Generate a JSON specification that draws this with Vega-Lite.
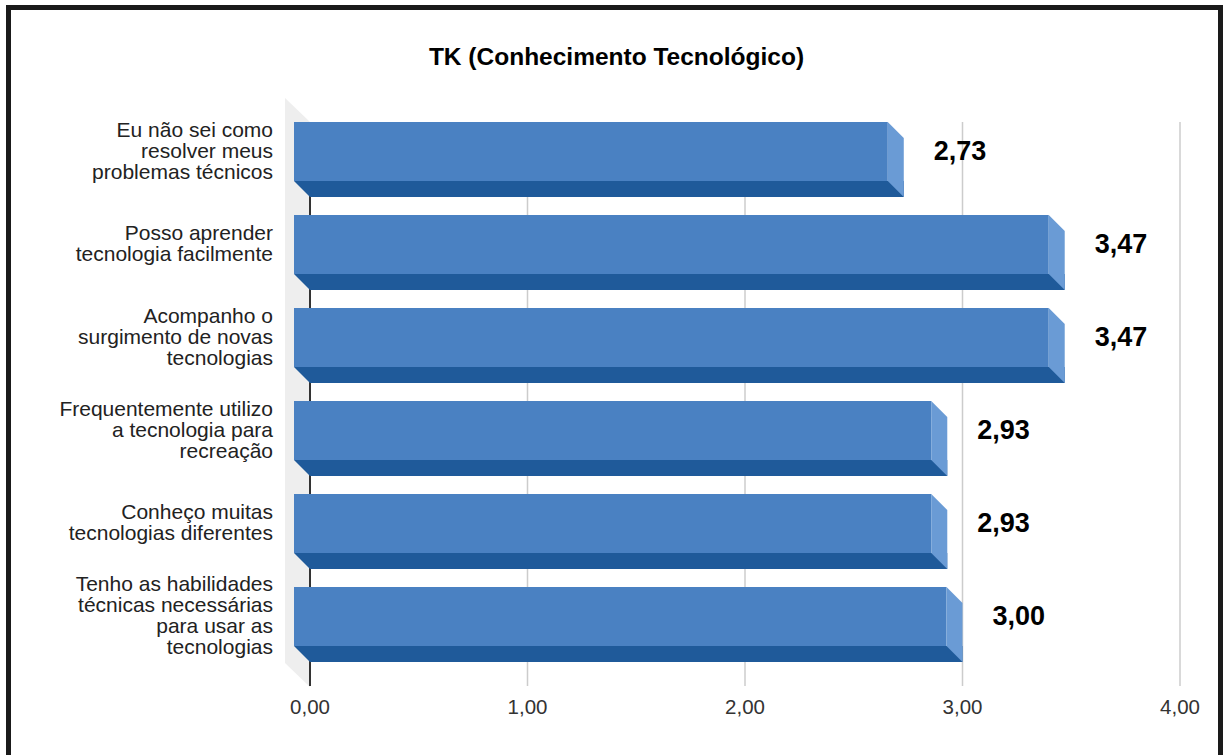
{
  "$schema": "https://vega.github.io/schema/vega-lite/v6.json",
  "autosize": "none",
  "padding": {"left": 8.5, "top": 7.5, "right": 3.5, "bottom": 0},
  "width": 1212,
  "height": 752,
  "background": "white",
  "title": {"text": "TK (Conhecimento Tecnológico)", "fontSize": 24.5, "fontWeight": "bold", "font": "Liberation Sans", "color": "#000000", "anchor": "middle", "frame": "group", "baseline": "middle", "offset": 0, "dy": 75, "dx": 2},
  "datasets": {
    "bars": [
      {"label": "Eu não sei como|resolver meus|problemas técnicos", "value": 2.73},
      {"label": "Posso aprender|tecnologia facilmente", "value": 3.47},
      {"label": "Acompanho o|surgimento de novas|tecnologias", "value": 3.47},
      {"label": "Frequentemente utilizo|a tecnologia para|recreação", "value": 2.93},
      {"label": "Conheço muitas|tecnologias diferentes", "value": 2.93},
      {"label": "Tenho as habilidades|técnicas necessárias|para usar as|tecnologias", "value": 3.00}
    ],
    "ticks": [{"t": 0}, {"t": 1}, {"t": 2}, {"t": 3}, {"t": 4}]
  },
  "resolve": {"scale": {"y": "independent"}},
  "layer": [
    {
      "data": {"name": "ticks"},
      "mark": {"type": "rule", "color": "#cccccc", "strokeWidth": 1.5},
      "encoding": {
        "x": {"field": "t", "type": "quantitative", "scale": {"domain": [0, 4], "range": [301.5, 1171.5], "nice": false, "zero": true}, "axis": null},
        "y": {"datum": 0, "type": "quantitative", "scale": {"domain": [0, 1], "range": [678.5, 114.5]}, "axis": null},
        "y2": {"datum": 1}
      }
    },
    {
      "data": {"values": [{"part": "wall"}]},
      "mark": {"type": "point", "shape": "M -25 -24 L 0 0 L 0 565 L -25 541 Z", "size": 4, "filled": true, "opacity": 1, "color": "#eeeeee", "strokeWidth": 0},
      "encoding": {
        "x": {"datum": 0, "type": "quantitative", "scale": {"domain": [0, 4], "range": [301.5, 1171.5], "nice": false, "zero": true}, "axis": null},
        "y": {"datum": 1, "type": "quantitative", "scale": {"domain": [0, 1], "range": [678.5, 114.5]}, "axis": null}
      }
    },
    {
      "data": {"values": [{"part": "axis"}]},
      "mark": {"type": "rule", "color": "#333333", "strokeWidth": 2},
      "encoding": {
        "x": {"datum": 0, "type": "quantitative", "scale": {"domain": [0, 4], "range": [301.5, 1171.5], "nice": false, "zero": true}, "axis": null},
        "y": {"datum": 0, "type": "quantitative", "scale": {"domain": [0, 1], "range": [678.5, 114.5]}, "axis": null},
        "y2": {"datum": 1}
      }
    },
    {
      "data": {"name": "bars"},
      "mark": {"type": "bar", "color": "#1f5a9a", "height": 16, "yOffset": 21.5, "x2Offset": 0, "xOffset": 0},
      "encoding": {
        "x": {"field": "value", "type": "quantitative", "scale": {"domain": [0, 4], "range": [301.5, 1171.5], "nice": false, "zero": true}, "axis": null},
        "x2": {"datum": 0},
        "y": {"field": "label", "type": "nominal", "sort": null, "scale": {"range": [113.5, 671.5], "paddingInner": 0, "paddingOuter": 0}, "axis": null}
      }
    },
    {
      "data": {"name": "bars"},
      "mark": {"type": "point", "shape": "M -16 13.5 L 0 13.5 L 0 29.5 Z", "size": 4, "filled": true, "opacity": 1, "color": "#1f5a9a", "strokeWidth": 0},
      "encoding": {
        "x": {"datum": 0, "type": "quantitative", "scale": {"domain": [0, 4], "range": [301.5, 1171.5], "nice": false, "zero": true}, "axis": null},
        "y": {"field": "label", "type": "nominal", "sort": null, "scale": {"range": [113.5, 671.5], "paddingInner": 0, "paddingOuter": 0}, "axis": null}
      }
    },
    {
      "data": {"name": "bars"},
      "mark": {"type": "bar", "color": "#4a81c2", "height": 59, "yOffset": -16, "xOffset": -16, "x2Offset": -16},
      "encoding": {
        "x": {"field": "value", "type": "quantitative", "scale": {"domain": [0, 4], "range": [301.5, 1171.5], "nice": false, "zero": true}, "axis": null},
        "x2": {"datum": 0},
        "y": {"field": "label", "type": "nominal", "sort": null, "scale": {"range": [113.5, 671.5], "paddingInner": 0, "paddingOuter": 0}, "axis": null}
      }
    },
    {
      "data": {"name": "bars"},
      "mark": {"type": "point", "shape": "M -16 -45.5 L 0 -29.5 L 0 29.5 L -16 13.5 Z", "size": 4, "filled": true, "opacity": 1, "color": "#6a9bd5", "strokeWidth": 0},
      "encoding": {
        "x": {"field": "value", "type": "quantitative", "scale": {"domain": [0, 4], "range": [301.5, 1171.5], "nice": false, "zero": true}, "axis": null},
        "y": {"field": "label", "type": "nominal", "sort": null, "scale": {"range": [113.5, 671.5], "paddingInner": 0, "paddingOuter": 0}, "axis": null}
      }
    },
    {
      "data": {"name": "bars"},
      "mark": {"type": "text", "align": "left", "baseline": "middle", "dx": 30, "dy": -16, "fontSize": 27, "fontWeight": "bold", "font": "Liberation Sans", "color": "#000000"},
      "encoding": {
        "x": {"field": "value", "type": "quantitative", "scale": {"domain": [0, 4], "range": [301.5, 1171.5], "nice": false, "zero": true}, "axis": null},
        "y": {"field": "label", "type": "nominal", "sort": null, "scale": {"range": [113.5, 671.5], "paddingInner": 0, "paddingOuter": 0}, "axis": null},
        "text": {"field": "value", "type": "quantitative", "format": ".2f"}
      }
    },
    {
      "data": {"name": "bars"},
      "transform": [{"filter": "length(split(datum.label, '|')) == 2"}],
      "mark": {"type": "text", "align": "right", "baseline": "middle", "dx": -37, "dy": -26.5, "fontSize": 21, "lineHeight": 21, "lineBreak": "|", "font": "Liberation Sans", "color": "#222222"},
      "encoding": {
        "x": {"datum": 0, "type": "quantitative", "scale": {"domain": [0, 4], "range": [301.5, 1171.5], "nice": false, "zero": true}, "axis": null},
        "y": {"field": "label", "type": "nominal", "sort": ["Eu não sei como|resolver meus|problemas técnicos", "Posso aprender|tecnologia facilmente", "Acompanho o|surgimento de novas|tecnologias", "Frequentemente utilizo|a tecnologia para|recreação", "Conheço muitas|tecnologias diferentes", "Tenho as habilidades|técnicas necessárias|para usar as|tecnologias"], "scale": {"domain": ["Eu não sei como|resolver meus|problemas técnicos", "Posso aprender|tecnologia facilmente", "Acompanho o|surgimento de novas|tecnologias", "Frequentemente utilizo|a tecnologia para|recreação", "Conheço muitas|tecnologias diferentes", "Tenho as habilidades|técnicas necessárias|para usar as|tecnologias"], "range": [113.5, 671.5], "paddingInner": 0, "paddingOuter": 0}, "axis": null},
        "text": {"field": "label", "type": "nominal"}
      }
    },
    {
      "data": {"name": "bars"},
      "transform": [{"filter": "length(split(datum.label, '|')) == 3"}],
      "mark": {"type": "text", "align": "right", "baseline": "middle", "dx": -37, "dy": -37, "fontSize": 21, "lineHeight": 21, "lineBreak": "|", "font": "Liberation Sans", "color": "#222222"},
      "encoding": {
        "x": {"datum": 0, "type": "quantitative", "scale": {"domain": [0, 4], "range": [301.5, 1171.5], "nice": false, "zero": true}, "axis": null},
        "y": {"field": "label", "type": "nominal", "sort": ["Eu não sei como|resolver meus|problemas técnicos", "Posso aprender|tecnologia facilmente", "Acompanho o|surgimento de novas|tecnologias", "Frequentemente utilizo|a tecnologia para|recreação", "Conheço muitas|tecnologias diferentes", "Tenho as habilidades|técnicas necessárias|para usar as|tecnologias"], "scale": {"domain": ["Eu não sei como|resolver meus|problemas técnicos", "Posso aprender|tecnologia facilmente", "Acompanho o|surgimento de novas|tecnologias", "Frequentemente utilizo|a tecnologia para|recreação", "Conheço muitas|tecnologias diferentes", "Tenho as habilidades|técnicas necessárias|para usar as|tecnologias"], "range": [113.5, 671.5], "paddingInner": 0, "paddingOuter": 0}, "axis": null},
        "text": {"field": "label", "type": "nominal"}
      }
    },
    {
      "data": {"name": "bars"},
      "transform": [{"filter": "length(split(datum.label, '|')) == 4"}],
      "mark": {"type": "text", "align": "right", "baseline": "middle", "dx": -37, "dy": -47.5, "fontSize": 21, "lineHeight": 21, "lineBreak": "|", "font": "Liberation Sans", "color": "#222222"},
      "encoding": {
        "x": {"datum": 0, "type": "quantitative", "scale": {"domain": [0, 4], "range": [301.5, 1171.5], "nice": false, "zero": true}, "axis": null},
        "y": {"field": "label", "type": "nominal", "sort": ["Eu não sei como|resolver meus|problemas técnicos", "Posso aprender|tecnologia facilmente", "Acompanho o|surgimento de novas|tecnologias", "Frequentemente utilizo|a tecnologia para|recreação", "Conheço muitas|tecnologias diferentes", "Tenho as habilidades|técnicas necessárias|para usar as|tecnologias"], "scale": {"domain": ["Eu não sei como|resolver meus|problemas técnicos", "Posso aprender|tecnologia facilmente", "Acompanho o|surgimento de novas|tecnologias", "Frequentemente utilizo|a tecnologia para|recreação", "Conheço muitas|tecnologias diferentes", "Tenho as habilidades|técnicas necessárias|para usar as|tecnologias"], "range": [113.5, 671.5], "paddingInner": 0, "paddingOuter": 0}, "axis": null},
        "text": {"field": "label", "type": "nominal"}
      }
    },
    {
      "data": {"name": "ticks"},
      "mark": {"type": "text", "align": "center", "baseline": "middle", "dy": 22, "fontSize": 20.5, "font": "Liberation Sans", "color": "#333333"},
      "encoding": {
        "x": {"field": "t", "type": "quantitative", "scale": {"domain": [0, 4], "range": [301.5, 1171.5], "nice": false, "zero": true}, "axis": null},
        "y": {"datum": 0, "type": "quantitative", "scale": {"domain": [0, 1], "range": [678.5, 114.5]}, "axis": null},
        "text": {"field": "t", "type": "quantitative", "format": ".2f"}
      }
    }
  ],
  "config": {
    "view": {"stroke": "#1a1a1a", "strokeWidth": 5},
    "locale": {"number": {"decimal": ",", "thousands": ".", "grouping": [3], "currency": ["R$", ""]}}
  }
}
